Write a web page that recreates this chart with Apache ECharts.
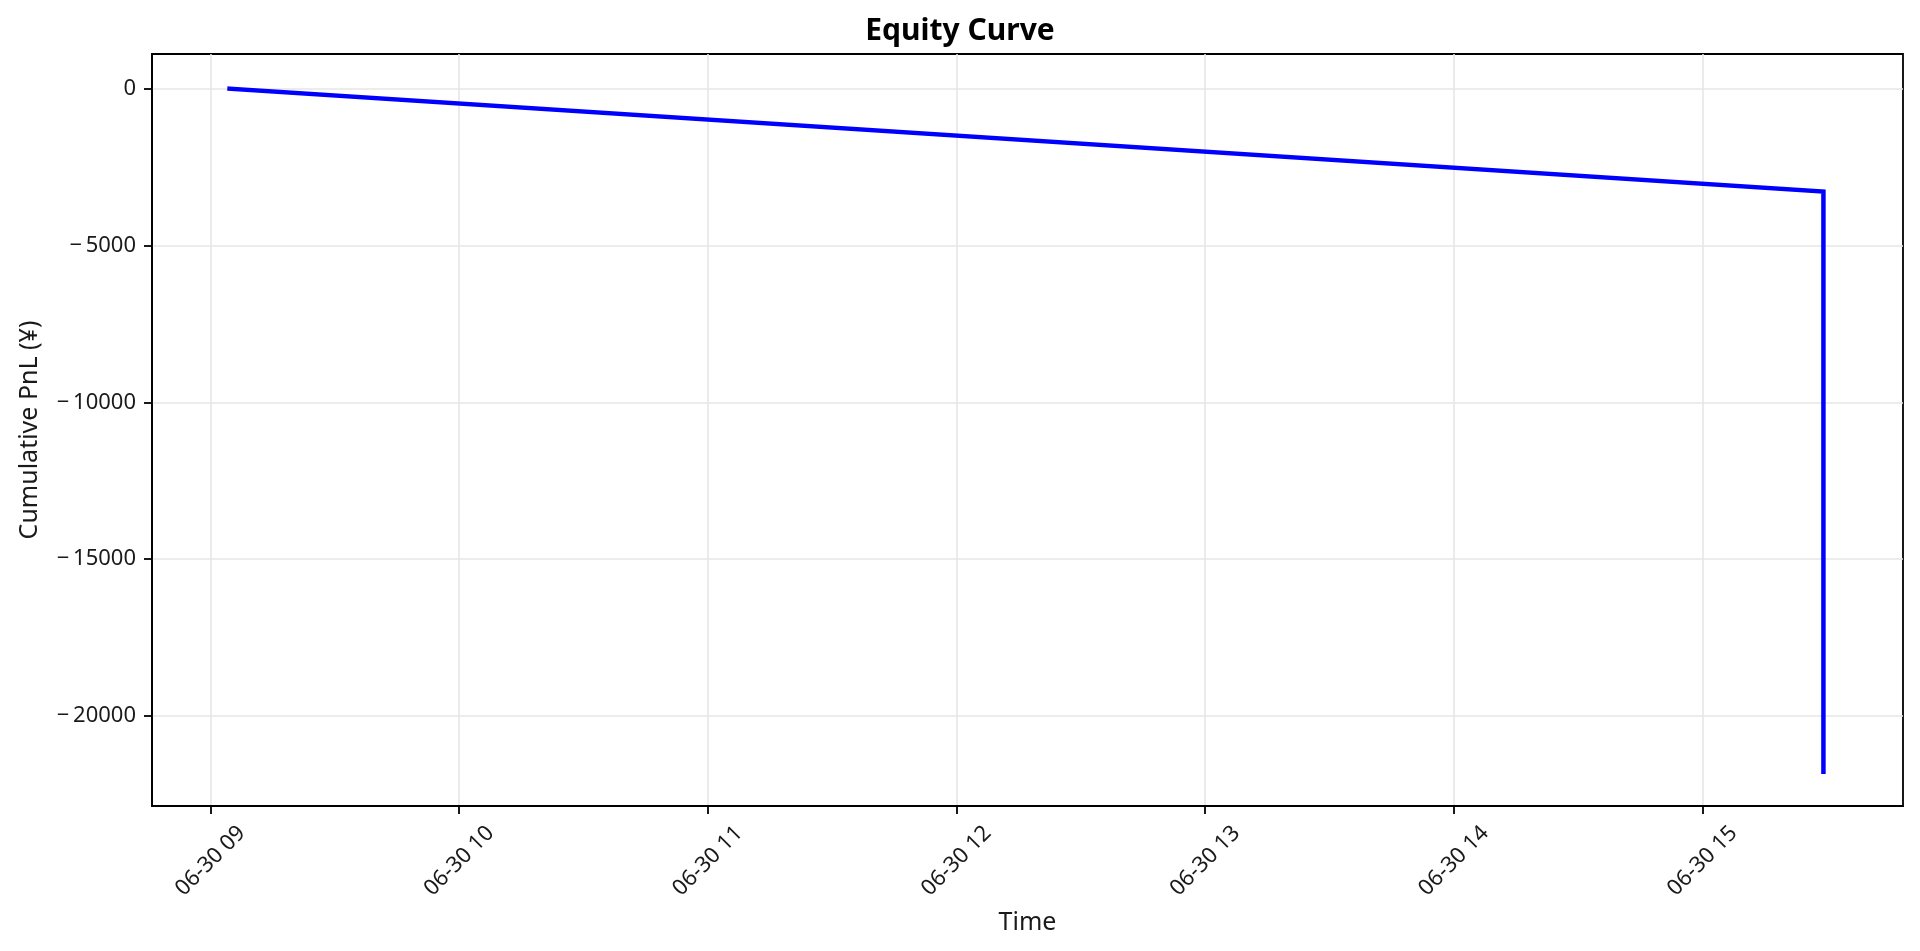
<!DOCTYPE html>
<html>
<head>
<meta charset="utf-8">
<script src="https://cdn.jsdelivr.net/npm/echarts@6/dist/echarts.min.js"></script>
<style>
html,body{margin:0;padding:0;background:#fff;}
#chart{width:1920px;height:951px;}
</style>
</head>
<body>
<div id="chart"></div>
<script>
// ---- data ----
const times = ['2025-06-30 09:04:35', '2025-06-30 15:29:10', '2025-06-30 15:29:10'];
const pnl = [0, -3280, -21780];
const xTickLabels = ['06-30 09', '06-30 10', '06-30 11', '06-30 12', '06-30 13', '06-30 14', '06-30 15'];
const xTickTimes = ['2025-06-30 09:00:00', '2025-06-30 10:00:00', '2025-06-30 11:00:00', '2025-06-30 12:00:00', '2025-06-30 13:00:00', '2025-06-30 14:00:00', '2025-06-30 15:00:00'];
const yTicks = [0, -5000, -10000, -15000, -20000];
const xRange = ['2025-06-30 08:45:52', '2025-06-30 15:48:22'];
const yRange = [-22873, 1107];

function ts(s) {
  const [d, t] = s.split(' ');
  const [Y, M, D] = d.split('-').map(Number);
  const [h, m, sec] = t.split(':').map(Number);
  return Date.UTC(Y, M - 1, D, h, m, sec);
}
const xTickVals = xTickTimes.map(ts);
const labelByVal = {};
xTickVals.forEach((v, i) => { labelByVal[v] = xTickLabels[i]; });
const seriesData = times.map((t, i) => [ts(t), pnl[i]]);

const FONT = '"Noto Sans", "Noto Sans CJK JP", sans-serif';
const TXT = '#1a1a1a';

const chart = echarts.init(document.getElementById('chart'));
chart.setOption({
  backgroundColor: '#ffffff',
  animation: false,
  title: {
    text: 'Equity Curve',
    left: 'center',
    top: 11,
    textStyle: { fontFamily: FONT, fontSize: 30, fontWeight: 'bold', color: '#000' }
  },
  grid: {
    left: 152, right: 17, top: 54, bottom: 145,
    show: true, borderColor: '#000', borderWidth: 1.8, backgroundColor: 'transparent',
    containLabel: false
  },
  xAxis: {
    type: 'value',
    min: ts(xRange[0]),
    max: ts(xRange[1]),
    name: 'Time',
    nameLocation: 'middle',
    nameGap: 104,
    nameTextStyle: { fontFamily: FONT, fontSize: 25, color: TXT },
    axisLine: { show: true, onZero: false, lineStyle: { color: '#000', width: 1.8 } },
    axisTick: { show: true, length: 8, inside: false, customValues: xTickVals, lineStyle: { color: '#000', width: 1.8 } },
    axisLabel: {
      customValues: xTickVals,
      rotate: 45,
      align: 'center',
      verticalAlign: 'middle',
      margin: 55,
      fontFamily: FONT, fontSize: 22, color: TXT,
      formatter: function (v) { return labelByVal[v] !== undefined ? labelByVal[v] : ''; },
      hideOverlap: false
    },
    splitLine: { show: true, lineStyle: { color: '#e6e6e6', width: 1.6 } }
  },
  yAxis: {
    type: 'value',
    min: yRange[0],
    max: yRange[1],
    name: 'Cumulative PnL (¥)',
    nameLocation: 'middle',
    nameGap: 110,
    nameTextStyle: { fontFamily: FONT, fontSize: 25, color: TXT },
    axisLine: { show: true, onZero: false, lineStyle: { color: '#000', width: 1.8 } },
    axisTick: { show: true, length: 8, inside: false, customValues: yTicks, lineStyle: { color: '#000', width: 1.8 } },
    axisLabel: {
      customValues: yTicks,
      margin: 16,
      fontFamily: FONT, fontSize: 22, color: TXT,
      formatter: function (v) { return v < 0 ? '\u2212\u2009' + Math.abs(v) : String(v); }
    },
    splitLine: { show: true, lineStyle: { color: '#e6e6e6', width: 1.6 } }
  },
  series: [{
    type: 'line',
    data: seriesData,
    showSymbol: false,
    symbol: 'none',
    lineStyle: { color: '#0000ff', width: 4.5, cap: 'square', join: 'miter' },
    itemStyle: { color: '#0000ff' }
  }]
});
</script>
</body>
</html>
